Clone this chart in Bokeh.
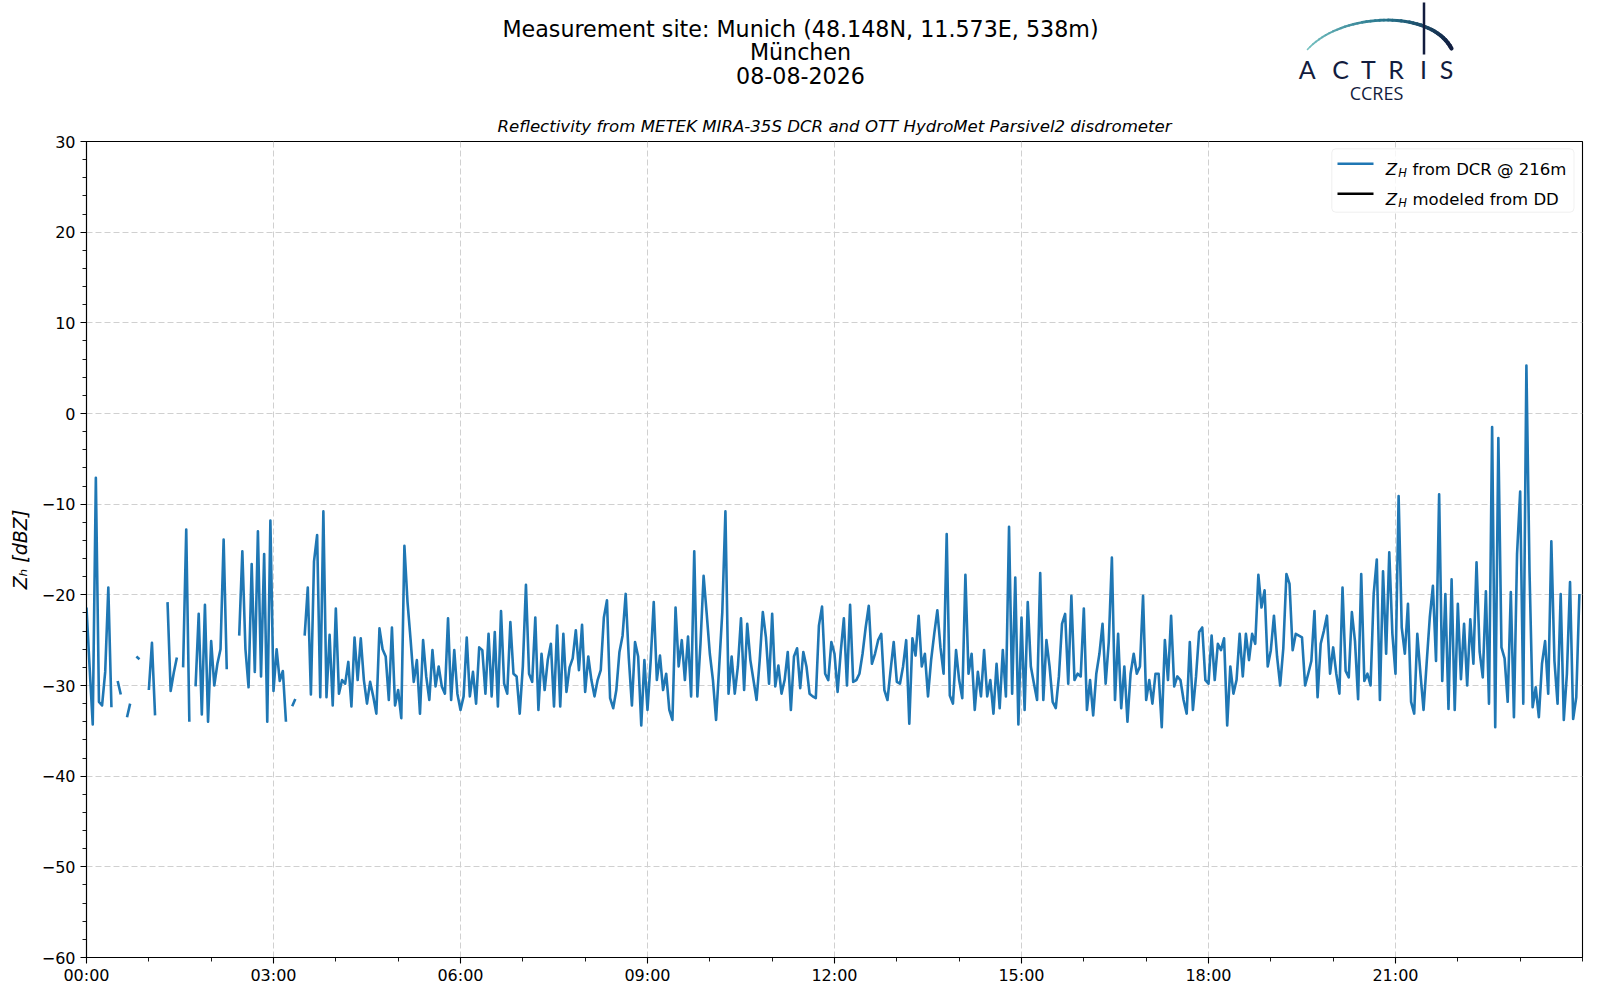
import numpy as np
from bokeh.plotting import figure
from bokeh.models import Range1d, FixedTicker, BoxAnnotation, Label, ColumnDataSource
from bokeh.layouts import column
from bokeh.embed import file_html
from bokeh.resources import INLINE
from bokeh.core.properties import value

nan = float("nan")

# ---------------- data ----------------
STEP_MIN = 3  # one value every 3 minutes, nan = no data

zh_dcr_00_06 = [
    -21.4, -28.0, -34.3, -7.1, -31.8, -32.2, -28.5, -19.2, -32.4, nan, -29.5, -31.0, nan, -33.5, -32.0, nan, -26.8, -27.1, nan, nan,
    -30.5, -25.3, -33.3, nan, nan, nan, -20.8, -30.6, -28.6, -26.9, nan, -28.0, -12.8, -34.0, nan, -30.1, -22.1, -33.2, -21.1, -34.0,
    -25.1, -30.0, -27.6, -26.0, -13.9, -28.2, nan, nan, nan, -24.5, -15.2, -26.0, -30.2, -16.6, -28.5, -13.0, -29.0, -15.5, -34.0, -11.8,
    -30.6, -26.0, -29.5, -28.4, -34.0, nan, -32.3, -31.5, nan, nan, -24.5, -19.2, -31.0, -16.3, -13.4, -31.3, -10.8, -31.3, -24.4, -32.2,
    -21.5, -30.9, -29.4, -29.8, -27.4, -32.3, -24.7, -29.4, -24.8, -29.4, -32.0, -29.6, -31.2, -33.1, -23.7, -26.0, -26.8, -31.6, -23.6, -32.2,
    -30.5, -33.6, -14.6, -20.8, -25.0, -29.6, -27.2, -33.1, -25.0, -29.0, -31.6, -26.1, -30.1, -27.9, -30.1, -30.9, -22.6, -31.6, -26.1, -30.9,
]
zh_dcr_06_12 = [
    -32.7, -31.2, -24.7, -31.2, -28.5, -32.0, -25.8, -26.1, -30.9, -24.3, -31.2, -24.1, -32.3, -21.8, -29.8, -30.9, -23.0, -28.7, -29.0, -33.1,
    -27.9, -18.9, -28.7, -29.6, -22.5, -32.7, -26.5, -30.5, -27.2, -25.4, -32.3, -23.4, -32.3, -24.3, -30.7, -28.0, -27.0, -23.9, -28.3, -23.3,
    -30.7, -26.8, -29.4, -31.2, -29.4, -28.3, -22.5, -20.6, -31.4, -32.5, -30.5, -26.3, -24.5, -19.9, -27.0, -32.2, -25.2, -26.8, -34.4, -27.2,
    -32.7, -27.4, -20.8, -29.4, -26.7, -30.5, -28.7, -32.7, -33.8, -21.4, -27.9, -25.0, -29.4, -24.6, -31.2, -15.2, -31.2, -25.4, -17.9, -22.1,
    -26.5, -29.4, -33.8, -27.9, -21.9, -10.8, -30.9, -26.8, -30.9, -27.9, -22.6, -30.5, -23.2, -27.2, -29.4, -31.6, -27.2, -21.9, -24.7, -29.8,
    -22.1, -30.1, -27.8, -30.9, -29.4, -26.3, -32.7, -26.8, -25.9, -30.3, -26.3, -27.9, -30.9, -31.2, -31.4, -23.4, -21.3, -28.7, -29.4, -25.2,
]
zh_dcr_12_18 = [
    -26.5, -30.7, -26.3, -22.6, -30.0, -21.1, -29.6, -29.4, -28.7, -26.5, -23.6, -21.2, -27.6, -26.5, -25.0, -24.3, -30.5, -31.6, -28.3, -25.2,
    -29.6, -29.8, -27.9, -25.0, -34.2, -24.8, -26.7, -22.3, -27.9, -26.5, -31.2, -27.2, -24.3, -21.7, -25.8, -28.7, -13.3, -31.1, -32.0, -26.1,
    -29.4, -31.4, -17.8, -28.7, -26.5, -32.7, -28.5, -31.2, -26.1, -31.2, -29.4, -33.1, -27.6, -32.5, -26.1, -31.2, -12.5, -30.9, -18.1, -34.3,
    -22.5, -32.7, -20.8, -27.9, -29.8, -31.6, -17.6, -31.6, -25.0, -27.9, -31.8, -32.5, -29.0, -23.2, -22.1, -29.8, -20.1, -29.4, -28.7, -29.0,
    -21.5, -32.7, -29.4, -33.3, -28.7, -26.5, -23.2, -29.8, -25.2, -15.9, -31.6, -24.3, -32.5, -27.9, -34.0, -28.7, -26.5, -28.7, -27.9, -20.1,
    -31.6, -29.4, -32.0, -28.7, -28.7, -34.6, -25.0, -29.4, -22.3, -30.1, -29.0, -29.4, -31.6, -33.1, -25.2, -32.7, -29.0, -24.1, -23.6, -29.4,
]
zh_dcr_18_24 = [
    -29.8, -24.5, -29.4, -25.4, -26.1, -24.8, -34.4, -27.9, -30.9, -29.4, -24.3, -29.0, -24.3, -27.2, -24.3, -25.4, -17.8, -21.4, -19.5, -27.9,
    -26.1, -22.3, -26.8, -30.0, -25.9, -17.7, -18.8, -26.1, -24.3, -24.5, -24.7, -30.0, -28.7, -27.3, -21.8, -31.3, -25.4, -24.0, -22.3, -28.7,
    -25.8, -28.7, -30.9, -19.2, -28.4, -29.1, -21.9, -25.1, -31.5, -17.7, -29.5, -28.7, -30.0, -19.9, -16.1, -31.6, -17.4, -26.5, -15.3, -24.3,
    -28.7, -9.1, -23.6, -26.5, -21.0, -31.8, -33.1, -24.3, -28.7, -32.7, -27.5, -22.5, -19.0, -27.3, -8.9, -29.5, -19.9, -32.6, -18.3, -32.7,
    -21.0, -29.3, -23.2, -30.0, -22.7, -27.6, -16.4, -26.3, -29.1, -19.6, -32.0, -1.5, -34.6, -2.7, -25.8, -27.0, -31.8, -19.7, -33.5, -15.5,
    -8.6, -32.0, 5.3, -17.4, -32.4, -30.2, -33.5, -27.6, -25.1, -30.9, -14.1, -27.3, -32.0, -19.9, -33.8, -28.7, -18.6, -33.7, -31.3, -19.9,
]

x_tick_hours = [0, 3, 6, 9, 12, 15, 18, 21]
x_tick_labels = ["00:00", "03:00", "06:00", "09:00", "12:00", "15:00", "18:00", "21:00"]
y_tick_values = [-60, -50, -40, -30, -20, -10, 0, 10, 20, 30]
y_tick_labels = ["\u221260", "\u221250", "\u221240", "\u221230", "\u221220", "\u221210", "0", "10", "20", "30"]

title_lines = ["Measurement site: Munich (48.148N, 11.573E, 538m)", "M\u00fcnchen", "08-08-2026"]
subtitle = "Reflectivity from METEK MIRA-35S DCR and OTT HydroMet Parsivel2 disdrometer"
y_label = "Z\u2095 [dBZ]"
legend_texts = ["from DCR @ 216m", "modeled from DD"]
legend_colors = ["#1f77b4", "#000000"]
logo_letters = ["A", "C", "T", "R", "I", "S"]
logo_sub = "CCRES"

zh = np.array(zh_dcr_00_06 + zh_dcr_06_12 + zh_dcr_12_18 + zh_dcr_18_24, dtype=float)
t_hours = np.arange(len(zh)) * STEP_MIN / 60.0

# ---------------- layout constants (page pixels) ----------------
PAGE_W = 1584
HEAD_H = 108
FRAME_L, FRAME_W, FRAME_H = 86, 1496, 816
BORDER_R = PAGE_W - FRAME_L - FRAME_W
BORDER_T, BORDER_B = 33, 27
FONT = "DejaVu Sans"
NAVY = "#121c3e"

IMG_FRAME_LEFT = FRAME_L
IMG_FRAME_TOP = HEAD_H + BORDER_T
PX_PER_H = FRAME_W / 24.0
PX_PER_DB = FRAME_H / 90.0


def hx(img_x):
    return (img_x - IMG_FRAME_LEFT) / PX_PER_H


def vy(img_y):
    return 30 - (img_y - IMG_FRAME_TOP) / PX_PER_DB


# ---------------- header (titles + logo), pixel coordinates ----------------
head = figure(frame_width=FRAME_W, height=HEAD_H,
              x_range=Range1d(FRAME_L, FRAME_L + FRAME_W), y_range=Range1d(HEAD_H, 0),
              toolbar_location=None, output_backend="svg",
              min_border_left=FRAME_L, min_border_right=BORDER_R, min_border_top=0, min_border_bottom=0,
              x_axis_location=None, y_axis_location=None, outline_line_color=None)
head.grid.visible = False
head.background_fill_color = "white"
head.border_fill_color = "white"

head.text(x=[800, 800, 800], y=[28.6, 51.0, 74.5], text=title_lines,
          text_font=value(FONT), text_font_size="22.2px", text_align="center",
          text_baseline="middle", text_color="black")

# logo arc with colour gradient
tt = np.linspace(0, 1, 41)
P = np.array([[1307, 49], [1340, 12], [1430, 8], [1451, 48]], dtype=float)
B = (((1 - tt) ** 3)[:, None] * P[0] + (3 * (1 - tt) ** 2 * tt)[:, None] * P[1]
     + (3 * (1 - tt) * tt ** 2)[:, None] * P[2] + (tt ** 3)[:, None] * P[3])
c0, c1, c2 = np.array([120, 196, 194]), np.array([40, 118, 142]), np.array([16, 28, 62])
seg_cols, seg_w = [], []
for k in range(len(tt) - 1):
    f = (tt[k] + tt[k + 1]) / 2
    c = c0 + (c1 - c0) * (f / 0.5) if f < 0.5 else c1 + (c2 - c1) * ((f - 0.5) / 0.5)
    seg_cols.append("#%02x%02x%02x" % tuple(int(round(v)) for v in c))
    seg_w.append(1.6 + 2.6 * f)
head.segment(x0=B[:-1, 0], y0=B[:-1, 1], x1=B[1:, 0], y1=B[1:, 1],
             line_color=seg_cols, line_width=seg_w, line_cap="round")
head.segment(x0=[1423.5], y0=[2], x1=[1423.5], y1=[54], line_color=NAVY, line_width=2.5)
head.text(x=[1306.7, 1340, 1368, 1395.5, 1423, 1446], y=[68] * 6, text=logo_letters,
          text_font=value("Lato"), text_font_size="25px", text_align="center",
          text_baseline="middle", text_color=NAVY)
head.text(x=[1376], y=[92.7], text=[logo_sub], text_font=value("Open Sans"), text_font_size="18px",
          text_align="center", text_baseline="middle", text_color=NAVY)

# ---------------- main plot ----------------
p = figure(frame_width=FRAME_W, frame_height=FRAME_H, x_range=Range1d(0, 24), y_range=Range1d(-60, 30),
           toolbar_location=None, output_backend="svg",
           min_border_left=FRAME_L, min_border_right=BORDER_R,
           min_border_top=BORDER_T, min_border_bottom=BORDER_B)
p.background_fill_color = "white"
p.border_fill_color = "white"
p.outline_line_color = "black"
p.outline_line_width = 1.1

p.title.text = subtitle
p.title.align = "center"
p.title.text_font = FONT
p.title.text_font_style = "italic"
p.title.text_font_size = "16.6px"
p.title.text_color = "black"
p.title.standoff = 12

xt = FixedTicker(ticks=x_tick_hours, minor_ticks=list(range(0, 25)))
yt = FixedTicker(ticks=y_tick_values, minor_ticks=list(range(-60, 31, 2)))
p.xaxis.ticker = xt
p.yaxis.ticker = yt
p.xgrid.ticker = xt
p.ygrid.ticker = yt
p.xaxis.major_label_overrides = dict(zip(x_tick_hours, x_tick_labels))
p.yaxis.major_label_overrides = dict(zip(y_tick_values, y_tick_labels))

for ax in (p.xaxis[0], p.yaxis[0]):
    ax.axis_line_color = "black"
    ax.axis_line_width = 1.1
    ax.major_tick_line_color = "black"
    ax.major_tick_line_width = 1.1
    ax.minor_tick_line_color = "black"
    ax.minor_tick_line_width = 0.9
    ax.major_tick_in = 0
    ax.major_tick_out = 6
    ax.minor_tick_in = 0
    ax.minor_tick_out = 4
    ax.major_label_text_font = FONT
    ax.major_label_text_font_size = "16px"
    ax.major_label_text_color = "black"
p.xaxis.major_label_standoff = 2
p.yaxis.major_label_standoff = 5
p.yaxis.axis_label = y_label
p.yaxis.axis_label_text_font = FONT
p.yaxis.axis_label_text_font_style = "italic"
p.yaxis.axis_label_text_font_size = "19px"
p.yaxis.axis_label_text_color = "black"
p.yaxis.axis_label_standoff = 8

for g in (p.xgrid[0], p.ygrid[0]):
    g.grid_line_color = "#d0d0d0"
    g.grid_line_dash = "6 3"
    g.grid_line_width = 1

src = ColumnDataSource(data=dict(t=t_hours, zh=zh))
p.line(x="t", y="zh", source=src, line_color=legend_colors[0], line_width=2.6, line_join="round")

# legend (drawn inside the frame)
LX = -3  # keep the reference's distance to the right edge
box = BoxAnnotation(left=hx(1334.3 + LX), right=hx(1576.5 + LX), top=vy(148.3), bottom=vy(211.7),
                    fill_color="white", fill_alpha=0.8, line_color="#cccccc", line_width=1,
                    border_radius=4, level="underlay")
p.add_layout(box)
row_mid = [vy(163.3), vy(193.3)]
row_base = [vy(169.3), vy(199.3)]
p.segment(x0=[hx(1340 + LX)] * 2, y0=row_mid, x1=[hx(1376 + LX)] * 2, y1=row_mid,
          line_color=legend_colors, line_width=2.6)
for yb, txt in zip(row_base, legend_texts):
    p.add_layout(Label(x=hx(1388.3 + LX), y=yb, text="Z", text_font=FONT, text_font_style="italic",
                       text_font_size="16.5px", text_baseline="alphabetic", text_color="black"))
    p.add_layout(Label(x=hx(1388.3 + LX), y=yb, x_offset=12.5, y_offset=-3.5, text="H", text_font=FONT,
                       text_font_style="italic", text_font_size="11.5px", text_baseline="alphabetic",
                       text_color="black"))
    p.add_layout(Label(x=hx(1388.3 + LX), y=yb, x_offset=26.7, text=txt, text_font=FONT,
                       text_font_size="16.5px", text_baseline="alphabetic", text_color="black"))

layout = column(head, p, spacing=0)
open("out.html", "w").write(file_html(layout, INLINE, title="Reflectivity"))
